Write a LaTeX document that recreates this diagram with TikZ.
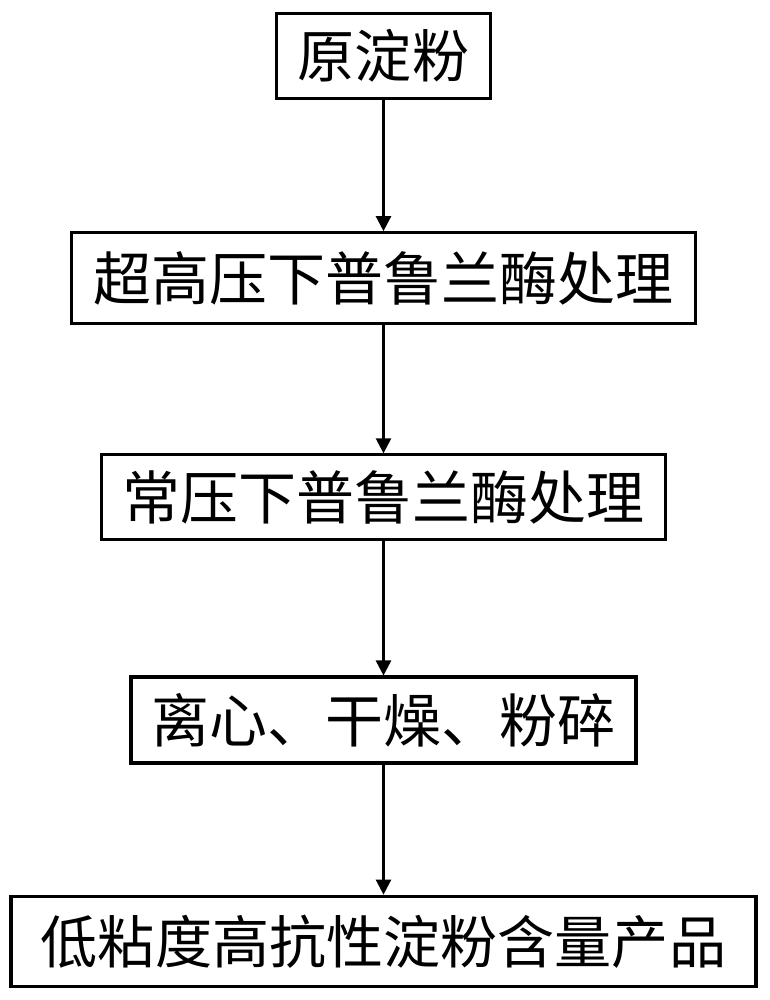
\documentclass[tikz,border=0pt]{standalone}
\usepackage{fontspec}
\newfontfamily\cjk{Noto Sans CJK SC}
\usetikzlibrary{positioning}
\usetikzlibrary{arrows.meta}

\begin{document}
\begin{tikzpicture}[
    stage/.style={rectangle, draw, line width=1.8pt, inner sep=0pt, font=\cjk\fontsize{33}{33}\selectfont},
    small/.style={font=\cjk\fontsize{32.5}{32.5}\selectfont},
    >={Triangle[length=0.3cm, width=0.3cm]}, node distance=2.6cm
]
    \useasboundingbox (0,0) rectangle (15.38,-20);

    % Stages
    \node[stage, small, minimum width=4.28cm, minimum height=1.70cm, anchor=north] (raw) at (7.67,-0.24) {原淀粉};
    \node[stage, minimum width=12.48cm, minimum height=1.82cm, below=2.62cm of raw] (uhp) {超高压下普鲁兰酶处理};
    \node[stage, minimum width=11.28cm, minimum height=1.70cm, below=2.56cm of uhp] (atm) {常压下普鲁兰酶处理};
    \node[stage, minimum width=10.10cm, minimum height=1.72cm, below=2.68cm of atm] (dry) {离心、干燥、粉碎};
    \node[stage, small, minimum width=14.90cm, minimum height=1.80cm, below=2.6cm of dry] (prod) {低粘度高抗性淀粉含量产品};

    % Arrows
    \draw[->, line width=1.4pt] (raw) -- (uhp);
    \draw[->, line width=1.4pt] (uhp) -- (atm);
    \draw[->, line width=1.4pt] (atm) -- (dry);
    \draw[->, line width=1.4pt] (dry) -- (prod);
\end{tikzpicture}
\end{document}
